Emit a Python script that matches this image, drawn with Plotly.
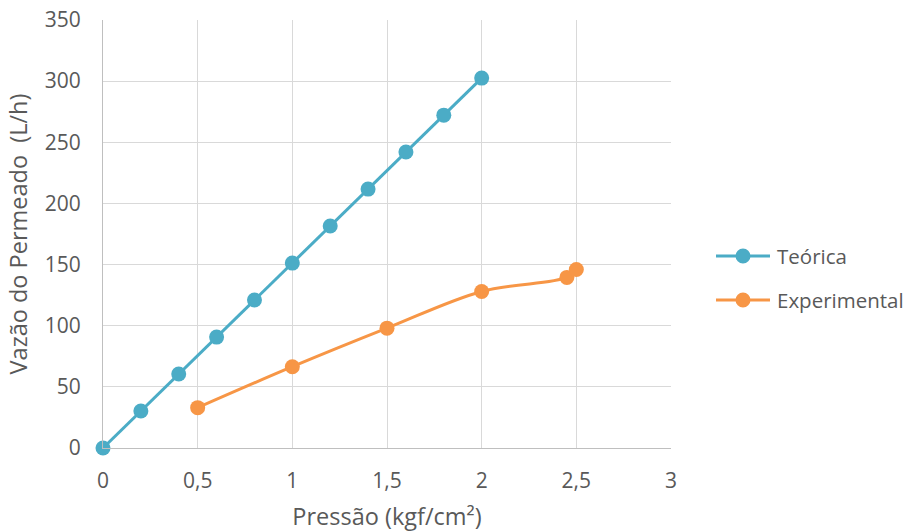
import plotly.graph_objects as go

# Pressão (kgf/cm²) e vazão do permeado (L/h)
teorica_x = [0, 0.2, 0.4, 0.6, 0.8, 1.0, 1.2, 1.4, 1.6, 1.8, 2.0]
teorica_y = [0, 30.2, 60.5, 90.7, 121, 151.2, 181.5, 211.7, 242, 272.2, 302.5]

experimental_x = [0.5, 1.0, 1.5, 2.0, 2.45, 2.5]
experimental_y = [33, 66.5, 98, 128, 139.5, 146]

x_ticks = [0, 0.5, 1, 1.5, 2, 2.5, 3]
x_tick_labels = ["0", "0,5", "1", "1,5", "2", "2,5", "3"]
y_ticks = [0, 50, 100, 150, 200, 250, 300, 350]

AZUL = "#4BACC6"
LARANJA = "#F79646"
FONTE = "Open Sans, sans-serif"
CINZA_TEXTO = "#595959"

W, H = 904, 532
ML, MR, MT, MB = 103, 233, 20, 84
PW, PH = W - ML - MR, H - MT - MB


def px_x(px):
    return (px - ML) / PW


def px_y(py):
    return (H - MB - py) / PH


series = [
    dict(name="Teórica", x=teorica_x, y=teorica_y, color=AZUL, shape="linear"),
    dict(name="Experimental", x=experimental_x, y=experimental_y, color=LARANJA, shape="spline"),
]

fig = go.Figure()
shapes, annotations = [], []
for i, s in enumerate(series):
    fig.add_trace(go.Scatter(
        x=s["x"], y=s["y"], name=s["name"], mode="lines+markers",
        line=dict(color=s["color"], width=3, shape=s["shape"], smoothing=1.0),
        marker=dict(color=s["color"], size=15),
        cliponaxis=False, showlegend=False,
    ))
    # legend key: line segment with a centred dot, then the label
    ky = 256 + 44 * i
    shapes.append(dict(type="line", xref="paper", yref="paper",
                       x0=px_x(716), x1=px_x(770), y0=px_y(ky), y1=px_y(ky),
                       line=dict(color=s["color"], width=3)))
    shapes.append(dict(type="circle", xref="paper", yref="paper",
                       x0=px_x(743 - 7.5), x1=px_x(743 + 7.5),
                       y0=px_y(ky + 7.5), y1=px_y(ky - 7.5),
                       fillcolor=s["color"], line=dict(color=s["color"], width=0)))
    annotations.append(dict(text=s["name"], xref="paper", yref="paper",
                            x=px_x(775), y=px_y(ky), xanchor="left", yanchor="middle",
                            showarrow=False, font=dict(size=20.5, color=CINZA_TEXTO)))

fig.update_layout(
    width=W, height=H,
    margin=dict(l=ML, r=MR, t=MT, b=MB),
    paper_bgcolor="white", plot_bgcolor="white",
    font=dict(family=FONTE, size=21, color=CINZA_TEXTO),
    showlegend=False,
    shapes=shapes, annotations=annotations,
)

fig.update_xaxes(
    range=[0, 3], tickvals=x_ticks, ticktext=x_tick_labels,
    showgrid=True, gridcolor="#D9D9D9", gridwidth=1,
    showline=True, linecolor="#BFBFBF", linewidth=1,
    zeroline=False, ticks="", ticklabelstandoff=14, automargin=False,
    tickfont=dict(size=21),
    title=dict(text="Pressão (kgf/cm²)", font=dict(size=23.5, color=CINZA_TEXTO), standoff=15),
)
fig.update_yaxes(
    range=[0, 350], tickvals=y_ticks,
    showgrid=True, gridcolor="#D9D9D9", gridwidth=1,
    showline=True, linecolor="#BFBFBF", linewidth=1,
    zeroline=False, ticks="", ticklabelstandoff=17, automargin=False,
    tickfont=dict(size=21),
    title=dict(text="Vazão do Permeado  (L/h)", font=dict(size=23.5, color=CINZA_TEXTO), standoff=10),
)

fig.write_html("out.html")
